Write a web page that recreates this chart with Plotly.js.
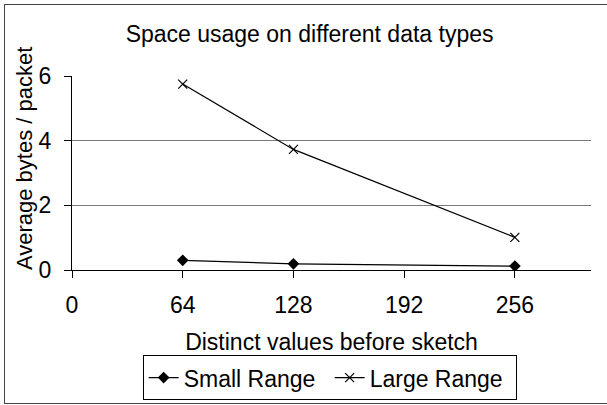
<!DOCTYPE html>
<html>
<head>
<meta charset="utf-8">
<script src="https://cdn.plot.ly/plotly-3.0.1.min.js"></script>
<style>
  html, body { margin: 0; padding: 0; background: #fff; overflow: hidden; }
  #wrap { position: relative; width: 607px; height: 405px; }
  #frame { position: absolute; left: 4px; top: 4px; width: 620px; height: 400px; border: 1px solid #444; box-sizing: border-box; pointer-events: none; z-index: 5; }
  #chart { position: absolute; left: 0; top: 0; width: 607px; height: 405px; }
</style>
</head>
<body>
<div id="wrap">
  <div id="chart"></div>
  <div id="frame"></div>
</div>
<script>
// Data
const distinctValues = [64, 128, 256];
const smallRange = [0.30, 0.19, 0.12];
const largeRange = [5.75, 3.73, 1.01];
const xTickValues = [0, 64, 128, 192, 256];
const yTickValues = [0, 2, 4, 6];
const seriesNames = ['Small Range', 'Large Range'];
const chartTitle = 'Space usage on different data types';
const xTitle = 'Distinct values before sketch';
const yTitle = 'Average bytes / packet';

const FONT = 'Liberation Sans, Arial, sans-serif';
const FS = 23;

const traces = [
  {
    x: distinctValues, y: smallRange, name: seriesNames[0],
    type: 'scatter', mode: 'lines+markers',
    line: { color: '#000', width: 1.2 },
    marker: { symbol: 'diamond', size: 9, color: '#000' }
  },
  {
    x: distinctValues, y: largeRange, name: seriesNames[1],
    type: 'scatter', mode: 'lines+markers',
    line: { color: '#000', width: 1.2 },
    marker: { symbol: 'x-thin-open', size: 9, color: '#000', line: { color: '#000', width: 1.2 } }
  }
];

const layout = {
  width: 607, height: 405,
  margin: { l: 72, r: 16, t: 76, b: 135, pad: 0, autoexpand: false },
  paper_bgcolor: 'rgba(0,0,0,0)', plot_bgcolor: '#fff',
  font: { family: FONT, size: FS, color: '#000' },
  title: {
    text: chartTitle, font: { family: FONT, size: FS, color: '#000' },
    xref: 'container', yref: 'container', x: 0.51, xanchor: 'center', y: 0.915, yanchor: 'middle'
  },
  xaxis: {
    range: [0, 300], tickvals: xTickValues, ticktext: xTickValues.map(String),
    showgrid: false, zeroline: false, showline: true, linecolor: '#000', linewidth: 1,
    ticks: 'outside', ticklen: 7, tickcolor: '#000', tickwidth: 1,
    ticklabelstandoff: 7,
    tickfont: { family: FONT, size: FS, color: '#000' },
    title: { text: xTitle, font: { family: FONT, size: FS, color: '#000' }, standoff: 18 }
  },
  yaxis: {
    range: [0, 6], tickvals: yTickValues, ticktext: yTickValues.map(String),
    showgrid: true, gridcolor: '#7a7a7a', gridwidth: 1, zeroline: false,
    showline: true, linecolor: '#000', linewidth: 1,
    ticks: 'outside', ticklen: 7, tickcolor: '#000', tickwidth: 1,
    ticklabelstandoff: 8,
    tickfont: { family: FONT, size: FS, color: '#000' }
  },
  annotations: [{
    text: yTitle, textangle: -90, showarrow: false,
    xref: 'paper', yref: 'paper', x: -0.0925, y: 0.577, xanchor: 'center', yanchor: 'middle',
    font: { family: FONT, size: 22, color: '#000' }
  }],
  showlegend: true,
  legend: {
    orientation: 'h', xref: 'container', yref: 'container', x: 0.235, xanchor: 'left', y: 0.012, yanchor: 'bottom',
    bordercolor: '#000', borderwidth: 1, bgcolor: '#fff',
    font: { family: FONT, size: FS, color: '#000' },
    entrywidth: 141, entrywidthmode: 'pixels',
    tracegroupgap: 0
  }
};

Plotly.newPlot('chart', traces, layout, { displayModeBar: false, staticPlot: true });
</script>
</body>
</html>
